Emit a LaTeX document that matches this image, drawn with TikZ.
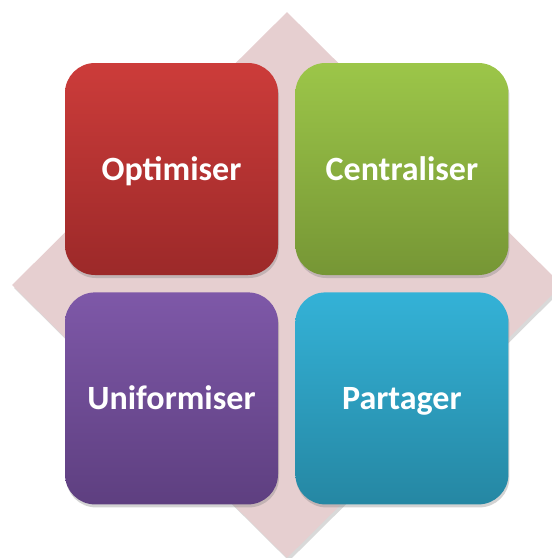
\documentclass[tikz,border=0pt]{standalone}
\usepackage{fontspec}
\setmainfont{Carlito}
\usetikzlibrary{positioning,shapes.geometric,shadows}

\definecolor{backpink}{HTML}{E6CFD0}
\definecolor{redtop}{RGB}{204,60,58}
\definecolor{redbot}{RGB}{156,41,41}
\definecolor{greentop}{RGB}{156,198,73}
\definecolor{greenbot}{RGB}{118,150,53}
\definecolor{purpletop}{RGB}{126,88,168}
\definecolor{purplebot}{RGB}{94,63,128}
\definecolor{cyantop}{RGB}{52,178,215}
\definecolor{cyanbot}{RGB}{37,135,163}

\begin{document}
\begin{tikzpicture}[x=1pt, y=-1pt,
        tile/.style={rounded corners=30pt, minimum width=213pt, minimum height=212pt,
            inner sep=0pt, text=white, font=\bfseries\fontsize{34}{40}\selectfont,
            text height=22pt, text depth=0pt,
            drop shadow={shadow xshift=1pt, shadow yshift=-3pt, opacity=0.35}},
        gap/.style={node distance=17pt}]

        \useasboundingbox (0, 0) rectangle (552, 558);

        % background diamond
        \node[diamond, fill=backpink, minimum width=550pt, minimum height=546pt, inner sep=0pt,
            drop shadow={shadow xshift=2pt, shadow yshift=-3pt, opacity=0.3}] (back) at (287, 285) {};

        \node[tile, top color=redtop, bottom color=redbot] (opt) at (171.5, 169) {Optimiser};
        \node[tile, gap, right=of opt, top color=greentop, bottom color=greenbot] (cent) {Centraliser};
        \node[tile, gap, below=of opt, top color=purpletop, bottom color=purplebot] (unif) {Uniformiser};
        \node[tile, gap, below=of cent, top color=cyantop, bottom color=cyanbot] (part) {Partager};

    \end{tikzpicture}
\end{document}
